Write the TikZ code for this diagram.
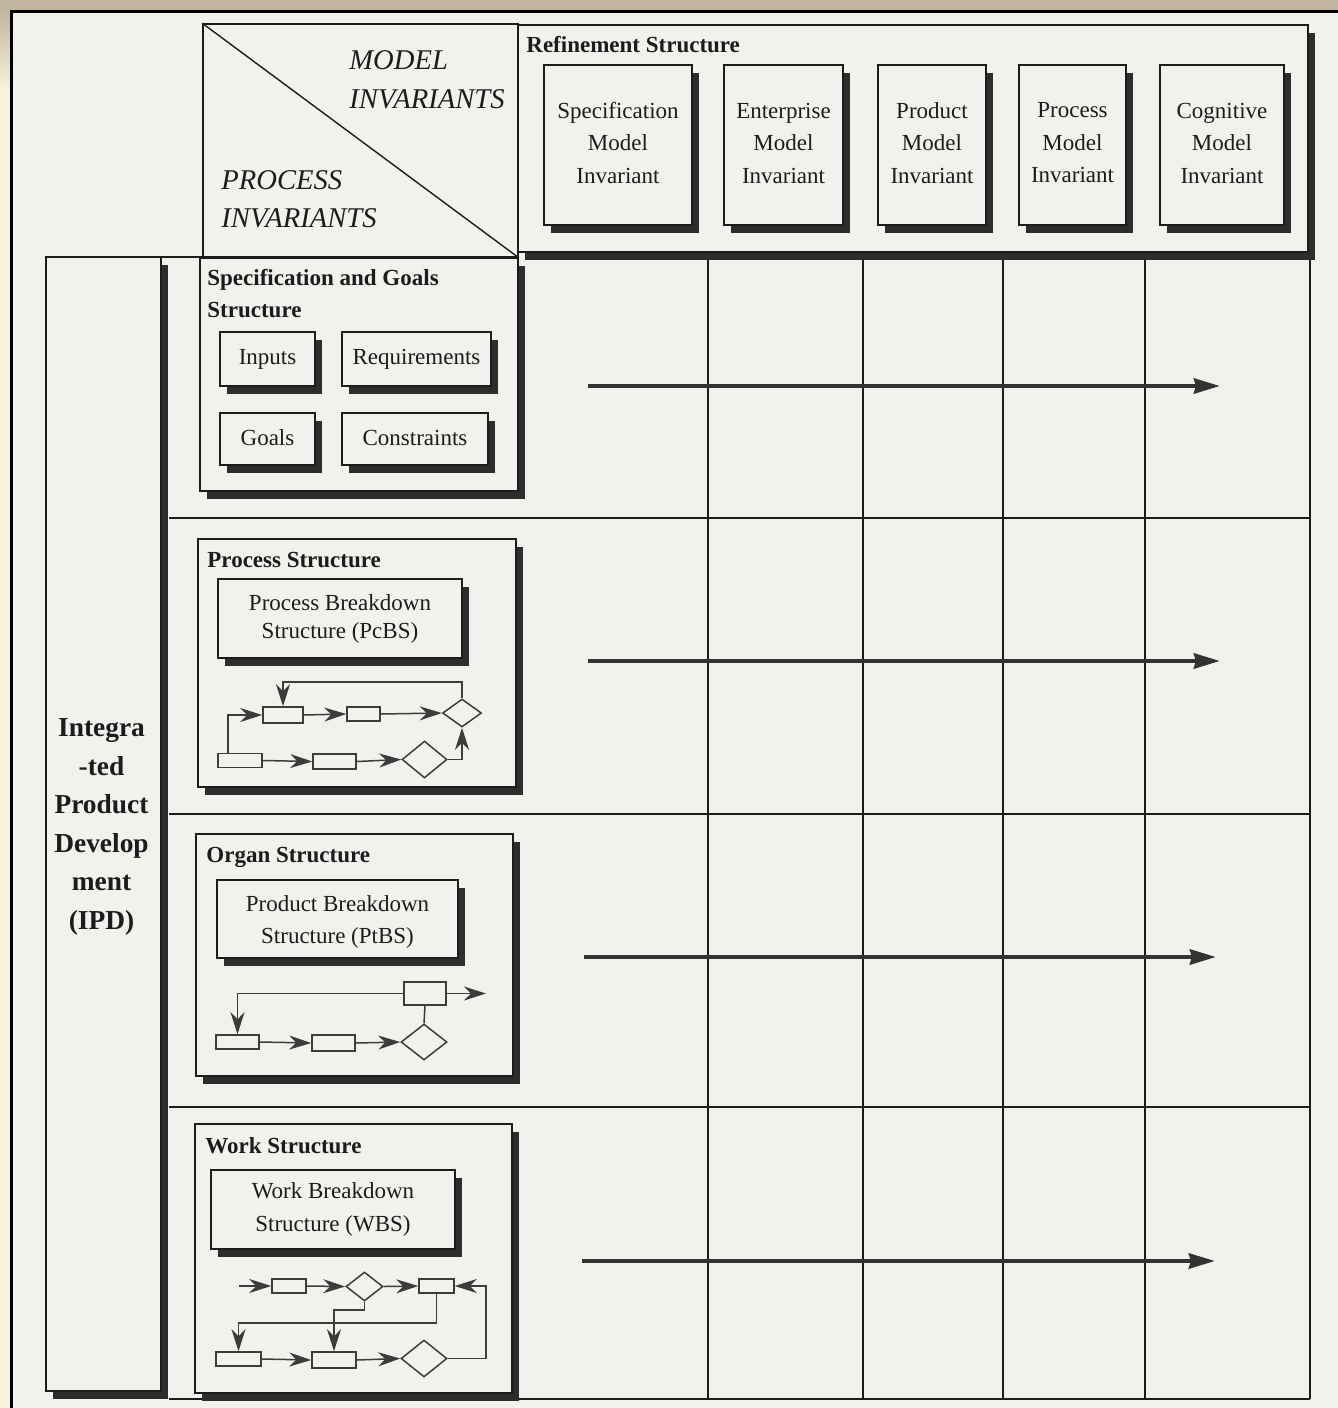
\documentclass[tikz,border=0pt]{standalone}
\usepackage{fontspec}
\setmainfont{Liberation Serif}
\usetikzlibrary{fit,shadows,shapes.geometric,arrows.meta}
\definecolor{bgc}{RGB}{241,241,238}
\definecolor{tanc}{RGB}{196,181,160}
\definecolor{creamc}{RGB}{246,242,220}
\definecolor{ink}{RGB}{28,28,28}
\definecolor{shc}{RGB}{45,45,45}
\definecolor{flowc}{RGB}{60,60,60}
\begin{document}
\begin{tikzpicture}[x=0.5pt,y=-0.5pt,
  every node/.style={text=ink},
  shbox/.style={draw=ink, line width=0.8pt, fill=bgc, inner sep=0pt,
     drop shadow={shadow xshift=3.5pt, shadow yshift=-4pt, fill=shc, opacity=1}},
  btext/.style={align=center, inner sep=0pt, font=\fontsize{11.5}{16.25}\selectfont},
  title/.style={anchor=base west, inner sep=0pt, font=\fontsize{11.5}{16}\selectfont\bfseries},
  bigtitle/.style={anchor=base west, inner sep=0pt, font=\fontsize{14.3}{19.5}\selectfont\itshape},
  gridl/.style={draw=ink, line width=0.7pt},
  frect/.style={draw=flowc, line width=0.75pt, fill=bgc, inner sep=0pt, rectangle},
  fdia/.style={diamond, draw=flowc, line width=0.75pt, fill=bgc, inner sep=0pt},
  farrow/.style={draw=flowc, line width=0.75pt, -{Stealth[length=11pt,width=7pt,inset=3.5pt]}},
  fline/.style={draw=flowc, line width=0.75pt},
  bigarrow/.style={draw=ink!90, line width=2.3pt, -{Stealth[length=13pt,width=7.5pt,inset=1pt]}}
]
\useasboundingbox (0,0) rectangle (1338,1408);
% page background and scan frame
\fill[bgc] (0,0) rectangle (1338,1408);
\fill[tanc] (0,0) rectangle (1338,10);
\fill[creamc] (0,10) rectangle (10,1408);
\shade[top color=tanc, bottom color=creamc] (0,10) rectangle (10,90);
\draw[black, line width=1.5pt] (11,1408) -- (11,11) -- (1338,11);

% grid
\foreach \x in {708,863,1003,1145,1310} \draw[gridl] (\x,256) -- (\x,1399);
\foreach \y in {518,814,1107,1399} \draw[gridl] (169,\y) -- (1310,\y);

% refinement structure
\node[shbox, fit={(518,25)(1308,252)}] (refine) {};
\node[title] (reftitle) at (526,52) {Refinement Structure};
\node[shbox, fit={(544,65)(692,225)}] (mspec) {};
\node[shbox, fit={(724,65)(843,225)}] (menter) {};
\node[shbox, fit={(878,65)(986,225)}] (mprod) {};
\node[shbox, fit={(1019,65)(1126,225)}] (mproc) {};
\node[shbox, fit={(1160,65)(1284,225)}] (mcog) {};
\node[btext] (mspec-t) at ([yshift=1pt]mspec.center) {Specification\\Model\\Invariant};
\node[btext] (menter-t) at ([yshift=1pt]menter.center) {Enterprise\\Model\\Invariant};
\node[btext] (mprod-t) at ([yshift=1pt]mprod.center) {Product\\Model\\Invariant};
\node[btext] (mproc-t) at ([yshift=1pt]mproc.center) {Process\\Model\\Invariant};
\node[btext] (mcog-t) at ([yshift=1pt]mcog.center) {Cognitive\\Model\\Invariant};

% diagonal header box
\node[draw=ink, line width=0.8pt, fill=bgc, inner sep=0pt, fit={(203,24)(518,257)}] (diag) {};
\draw[ink, line width=0.7pt] (diag.north west) -- (diag.south east);
\node[bigtitle] (model1) at (349,69) {MODEL};
\node[bigtitle] (model2) at (349,108) {INVARIANTS};
\node[bigtitle] (proc1) at (221,189) {PROCESS};
\node[bigtitle] (proc2) at (221,227) {INVARIANTS};

% IPD column
\node[shbox, fit={(46,257)(161,1391)}] (ipd) {};
\node[btext, font=\fontsize{13.7}{19.3}\selectfont\bfseries] (ipd-t) at ([xshift=-1pt,yshift=-1.5pt]ipd.center) {Integra\\-ted\\Product\\Develop\\ment\\(IPD)};
\draw[gridl] (46,257) -- (519,257);

% Specification and Goals Structure
\node[shbox, fit={(200,258)(518,491)}] (sgs) {};
\node[title] (sgst1) at (207,285) {Specification and Goals};
\node[title] (sgst2) at (207,317) {Structure};
\node[shbox, fit={(220,332)(315,386)}] (inputs) {};
\node[shbox, fit={(342,332)(491,386)}] (reqs) {};
\node[shbox, fit={(220,413)(315,465)}] (goals) {};
\node[shbox, fit={(342,413)(488,465)}] (cons) {};
\node[btext] (inputs-t) at (inputs.center) {Inputs};
\node[btext] (reqs-t) at (reqs.center) {Requirements};
\node[btext] (goals-t) at ([yshift=0.5pt]goals.center) {Goals};
\node[btext] (cons-t) at ([yshift=0.5pt]cons.center) {Constraints};

% Process Structure
\node[shbox, fit={(198,539)(516,787)}] (pcs) {};
\node[title] (pcst) at (207,567) {Process Structure};
\node[shbox, fit={(218,579)(462,658)}] (pcbs) {};
\node[btext, font=\fontsize{11.5}{14}\selectfont] (pcbs-t) at (pcbs.center) {Process Breakdown\\Structure (PcBS)};
\node[frect, minimum width=20pt, minimum height=8pt] (pA) at (283,715) {};
\node[frect, minimum width=16.5pt, minimum height=7pt] (pB) at (363.5,714) {};
\node[fdia, minimum width=19.5pt, minimum height=14pt] (pD1) at (462,713) {};
\node[frect, minimum width=22pt, minimum height=7pt] (pC) at (240,760.5) {};
\node[frect, minimum width=21.5pt, minimum height=7.5pt] (pD) at (334.5,761.5) {};
\node[fdia, minimum width=22.5pt, minimum height=18.5pt] (pD2) at (424.5,759.5) {};
\coordinate (pc1) at (228,0);
\coordinate (pc2) at (0,682);
\draw[farrow] (pC.north -| pc1) |- (pA.west);
\draw[farrow] (pA.east) -- (pB.west);
\draw[farrow] (pB.east) -- (pD1.west);
\draw[farrow] (pD1.north) -- (pD1.north |- pc2) -| (pA.north);
\draw[farrow] (pC.east) -- (pD.west);
\draw[farrow] (pD.east) -- (pD2.west);
\draw[farrow] (pD2.east) -| (pD1.south);

% Organ Structure
\node[shbox, fit={(196,834)(513,1076)}] (ors) {};
\node[title] (orst) at (206,862) {Organ Structure};
\node[shbox, fit={(217,880)(458,958)}] (ptbs) {};
\node[btext] (ptbs-t) at ([yshift=-1.5pt]ptbs.center) {Product Breakdown\\Structure (PtBS)};
\node[frect, minimum width=21pt, minimum height=11.5pt] (oE) at (425,993.5) {};
\node[frect, minimum width=21.5pt, minimum height=7pt] (oF) at (237.5,1042) {};
\node[frect, minimum width=21.5pt, minimum height=8pt] (oG) at (333.5,1043) {};
\node[fdia, minimum width=23pt, minimum height=18pt] (oD3) at (424,1042) {};
\coordinate (oout) at (486,993.5);
\draw[farrow] (oE.east) -- (oout);
\draw[farrow] (oE.west) -| (oF.north);
\draw[fline] (oE.south) -- (oD3.north);
\draw[farrow] (oF.east) -- (oG.west);
\draw[farrow] (oG.east) -- (oD3.west);

% Work Structure
\node[shbox, fit={(195,1124)(512,1393)}] (wks) {};
\node[title] (wkst) at (205,1153) {Work Structure};
\node[shbox, fit={(211,1170)(455,1249)}] (wbs) {};
\node[btext] (wbs-t) at (wbs.center) {Work Breakdown\\Structure (WBS)};
\node[frect, minimum width=17pt, minimum height=7pt] (wH) at (289,1286) {};
\node[fdia, minimum width=18.5pt, minimum height=14.5pt] (wD4) at (364.5,1286.5) {};
\node[frect, minimum width=17.5pt, minimum height=7pt] (wI) at (436.5,1286) {};
\node[frect, minimum width=22.5pt, minimum height=7pt] (wK) at (238.5,1359) {};
\node[frect, minimum width=22pt, minimum height=8pt] (wJ) at (334,1360) {};
\node[fdia, minimum width=23pt, minimum height=18.5pt] (wD5) at (424,1358.5) {};
\coordinate (win) at (239,1286);
\coordinate (wr) at (486,0);
\coordinate (w1) at (0,1310);
\coordinate (w2) at (0,1323);
\draw[farrow] (win) -- (wH.west);
\draw[farrow] (wH.east) -- (wD4.west);
\draw[farrow] (wD4.east) -- (wI.west);
\draw[farrow] (wK.east) -- (wJ.west);
\draw[farrow] (wJ.east) -- (wD5.west);
\draw[farrow] (wD5.east) -| (wr |- wI.east) -- (wI.east);
\draw[farrow] (wD4.south) -- (wD4.south |- w1) -| (wJ.north);
\draw[farrow] (wI.south) -- (wI.south |- w2) -| (wK.north);

% long arrows across the grid
\coordinate (a1s) at (588,386); \coordinate (a1e) at (1220,386);
\coordinate (a2s) at (588,661); \coordinate (a2e) at (1220,661);
\coordinate (a3s) at (584,957); \coordinate (a3e) at (1216,957);
\coordinate (a4s) at (582,1261); \coordinate (a4e) at (1215,1261);
\draw[bigarrow] (a1s) -- (a1e);
\draw[bigarrow] (a2s) -- (a2e);
\draw[bigarrow] (a3s) -- (a3e);
\draw[bigarrow] (a4s) -- (a4e);
\end{tikzpicture}
\end{document}
